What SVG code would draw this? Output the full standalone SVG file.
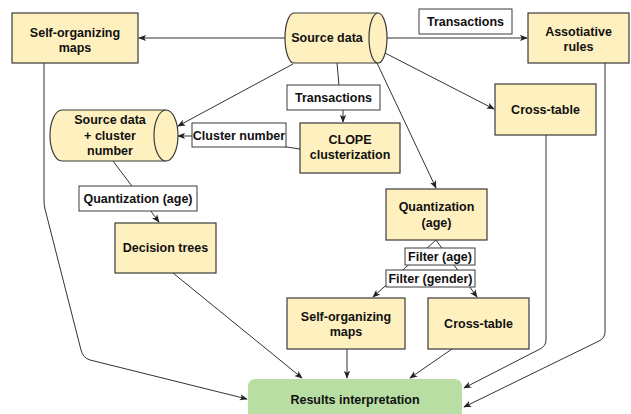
<svg xmlns="http://www.w3.org/2000/svg" width="631" height="414" viewBox="0 0 631 414">
<defs>
<marker id="arr" viewBox="0 0 10 8" refX="9" refY="4" markerWidth="8" markerHeight="7" orient="auto" markerUnits="userSpaceOnUse">
<path d="M0,0 L10,4 L0,8 L2.5,4 z" fill="#222"/>
</marker>
<style>
.n{fill:#fff0bf;stroke:#3a3a3a;stroke-width:1.2}
.lbl{fill:#ffffff;stroke:#3a3a3a;stroke-width:1}
.res{fill:#b9dea3;stroke:none}
.e{fill:none;stroke:#333;stroke-width:1}
.a{marker-end:url(#arr)}
text{font-family:"Liberation Sans",Arial,sans-serif;font-weight:bold;font-size:12.5px;fill:#111;text-anchor:middle}
</style>
</defs>
<rect width="631" height="414" fill="#ffffff"/>

<g id="connectors">
<path class="e a" d="M285 38 L139 38"/>
<path class="e a" d="M387 38 L527 38"/>
<path class="e a" d="M385 53 L494 109"/>
<path class="e a" d="M377 63 L436 188"/>
<path class="e a" d="M337 63 L340 97 L343 97 L343 122"/>
<path class="e a" d="M293 64 L178 126"/>
<path class="e a" d="M300 149 L280 146 L260 136 L178 136"/>
<path class="e a" d="M113 161 L159 222"/>
<path class="e a" d="M44 63 L44 200 Q44 205 45 209 L81 350 Q83 358 90 360 L247 399"/>
<path class="e a" d="M173 273 L302 378"/>
<path class="e a" d="M347 349 L347 378"/>
<path class="e a" d="M452 349 L410 378"/>
<path class="e a" d="M546 135 L546 340 Q546 346 540 349 L464 388"/>
<path class="e a" d="M605 63 L605 332 Q605 338 599 341 L464 407"/>
<path class="e a" d="M436 240 L373 297"/>
<path class="e a" d="M436 240 L477 297"/>
</g>

<g id="edge-labels">
<rect class="lbl" x="419" y="9" width="93" height="25"/>
<text x="465.5" y="26">Transactions</text>
<rect class="lbl" x="287" y="85" width="93" height="25"/>
<text x="333.5" y="102">Transactions</text>
<rect class="lbl" x="192" y="123" width="94" height="24"/>
<text x="239" y="139.5">Cluster number</text>
<rect class="lbl" x="79" y="186" width="118" height="25"/>
<text x="138" y="203">Quantization (age)</text>
<rect class="lbl" x="405" y="248" width="70" height="17"/>
<text x="440" y="261">Filter (age)</text>
<rect class="lbl" x="386" y="270" width="89" height="17"/>
<text x="430.5" y="283">Filter (gender)</text>
</g>

<g id="som-top">
<rect class="n" x="12" y="13" width="126" height="50"/>
<text x="75" y="37">Self-organizing</text>
<text x="75" y="52">maps</text>
</g>

<g id="source-data">
<path class="n" d="M294 13 L378 13 A9 25 0 0 1 378 63 L294 63 A9 25 0 0 1 294 13 Z"/>
<path class="n" d="M378 13 A9 25 0 0 0 378 63"/>
<text x="327" y="42">Source data</text>
</g>

<g id="assoc-rules">
<rect class="n" x="528" y="13" width="101" height="50"/>
<text x="578.5" y="36">Assotiative</text>
<text x="578.5" y="51">rules</text>
</g>

<g id="cross-table-top">
<rect class="n" x="495" y="84" width="101" height="51"/>
<text x="545.5" y="114">Cross-table</text>
</g>

<g id="source-cluster">
<path class="n" d="M62 110 L166 110 A12 25.5 0 0 1 166 161 L62 161 A12 25.5 0 0 1 62 110 Z"/>
<path class="n" d="M166 110 A12 25.5 0 0 0 166 161"/>
<text x="110" y="124">Source data</text>
<text x="110" y="140">+ cluster</text>
<text x="110" y="155">number</text>
</g>

<g id="clope">
<rect class="n" x="300" y="123" width="100" height="50"/>
<text x="350" y="144">CLOPE</text>
<text x="350" y="159">clusterization</text>
</g>

<g id="decision-trees">
<rect class="n" x="115" y="223" width="101" height="50"/>
<text x="165.5" y="252">Decision trees</text>
</g>

<g id="quantization">
<rect class="n" x="386" y="189" width="101" height="51"/>
<text x="436.5" y="211">Quantization</text>
<text x="436.5" y="227">(age)</text>
</g>

<g id="som-bottom">
<rect class="n" x="287" y="298" width="118" height="51"/>
<text x="346" y="321">Self-organizing</text>
<text x="346" y="336">maps</text>
</g>

<g id="cross-table-bottom">
<rect class="n" x="428" y="298" width="101" height="51"/>
<text x="478.5" y="328">Cross-table</text>
</g>

<g id="results">
<rect class="res" x="248" y="379" width="214" height="46" rx="7"/>
<text x="355" y="404">Results interpretation</text>
</g>
</svg>
